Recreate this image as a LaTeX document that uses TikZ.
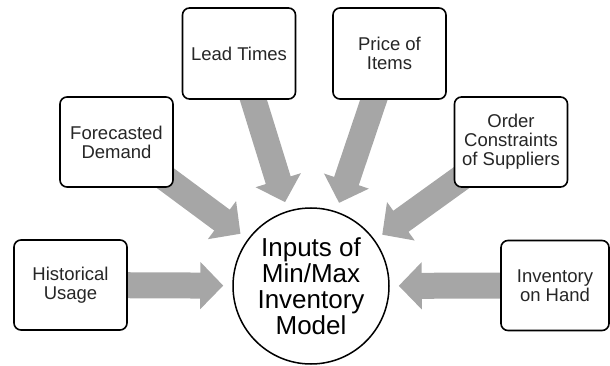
\documentclass[tikz,border=0pt]{standalone}
\usepackage{fontspec}
\setmainfont{Liberation Sans}
\usetikzlibrary{arrows.meta,backgrounds}
\definecolor{arrowgray}{RGB}{166,166,166}
\definecolor{textgray}{RGB}{38,38,38}

\begin{document}
\begin{tikzpicture}[x=1pt, y=-1pt,
		inbox/.style={draw, rectangle, rounded corners=7pt, line width=1.6pt, fill=white, minimum width=113pt, minimum height=90pt, align=center, inner sep=2pt, text=textgray, font=\fontsize{18.5}{19}\selectfont},
		model/.style={draw, circle, line width=1.5pt, fill=white, minimum size=156pt, align=center, inner sep=0pt, font=\fontsize{26}{26}\selectfont},
		inarrow/.style={draw=arrowgray, line width=26pt, -{Triangle[width=46pt, length=23pt]}, shorten >=9pt}]
				\useasboundingbox (0, 0) rectangle (610, 366);
				\node[model] (IM)at(311, 286) {Inputs of\\Min/Max\\Inventory\\Model};
				\node[inbox] (HU)at(70.5, 285) {Historical\\Usage};
				\node[inbox] (FD)at(116.5, 142) {Forecasted\\Demand};
				\node[inbox, minimum height=91pt] (LT)at(239, 53.5) {Lead Times};
				\node[inbox, minimum height=91pt] (PI)at(389.5, 53.5) {Price of\\Items};
				\node[inbox] (OC)at(511, 142) {Order\\Constraints\\of Suppliers};
				\node[inbox, minimum width=108pt] (IH)at(555, 285.5) {Inventory\\on Hand};
				\begin{scope}[on background layer]
					\draw[inarrow] (HU.center) -- (IM);
					\draw[inarrow] (FD.center) -- (IM);
					\draw[inarrow] (LT.center) -- (IM);
					\draw[inarrow] (PI.center) -- (IM);
					\draw[inarrow] (OC.center) -- (IM);
					\draw[inarrow] (IH.center) -- (IM);
				\end{scope}
			\end{tikzpicture}
\end{document}
